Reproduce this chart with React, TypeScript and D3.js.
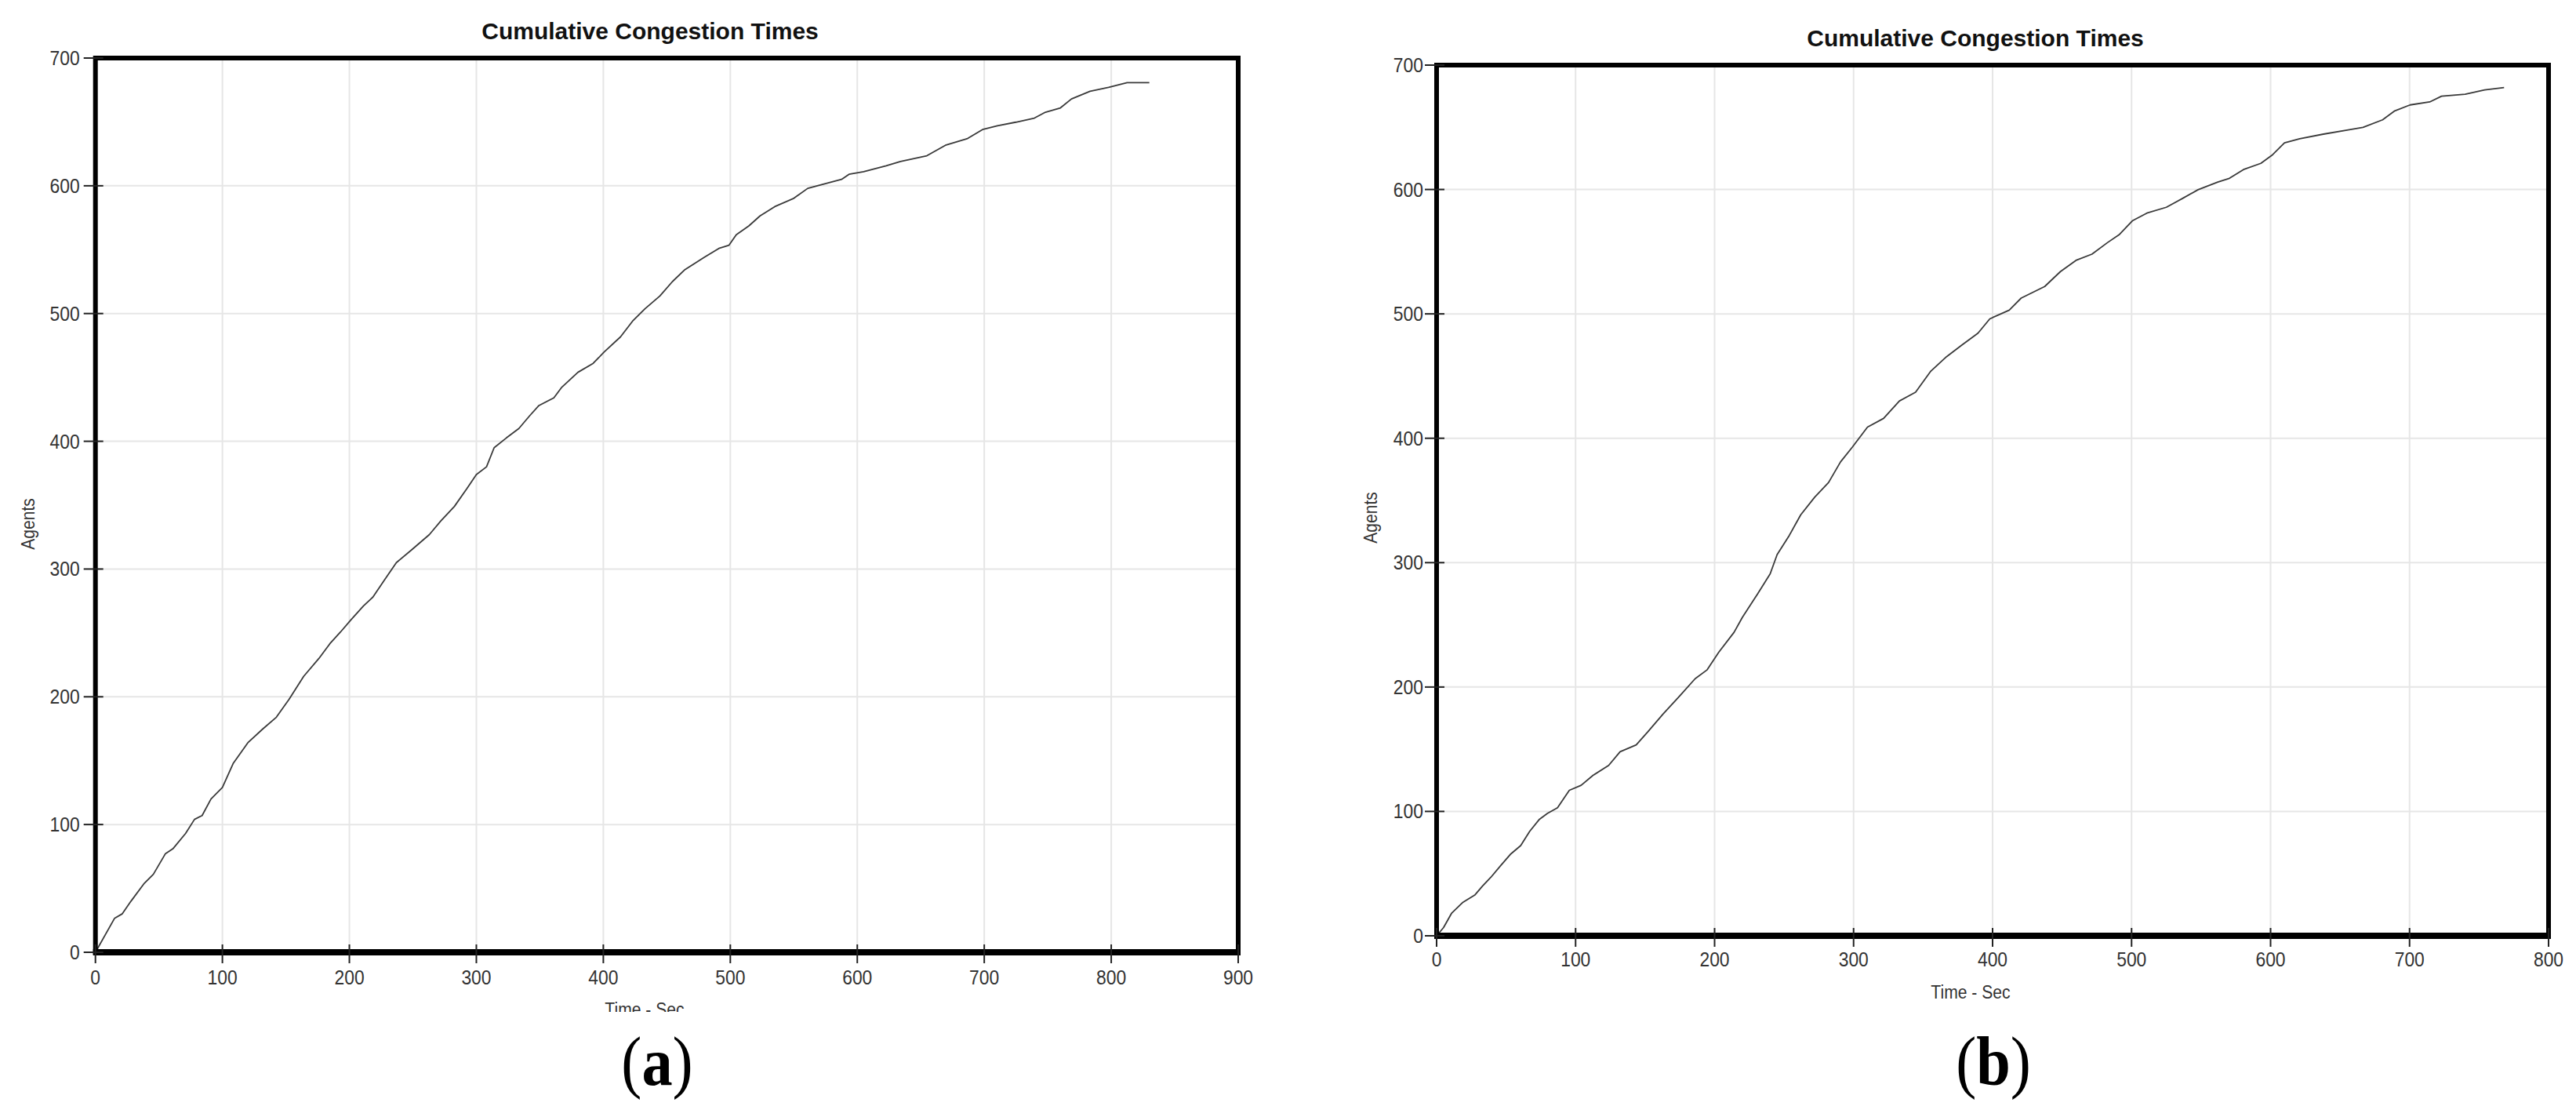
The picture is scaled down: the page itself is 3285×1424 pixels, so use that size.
import React from 'react';
import * as d3 from 'd3';

// Panel (a) data: time (s) vs cumulative agents
const timeA = [0, 15, 21, 28, 38.5, 45.6, 55, 61, 71, 78, 84, 91, 100, 108.6, 120, 132, 142.5, 152.5, 164, 176, 184.6, 193, 201, 211, 218.5, 228, 237, 249, 263, 272, 282.7, 292.6, 300, 308, 314, 323.6, 333.5, 342, 349.3, 361, 367, 380, 392, 400.7, 413.5, 423, 432.8, 444.5, 454.4, 463.8, 479.5, 491, 499, 504.7, 514.6, 523.4, 535, 549.6, 561, 576, 587.6, 593.5, 605, 622.7, 634, 654.8, 669.4, 686.9, 698.6, 710.3, 724.9, 739.5, 748.2, 760, 768.7, 783.3, 797.9, 812.5, 830];
const agentsA = [0, 26.5, 30, 40, 54, 61, 77, 81, 93, 104, 107, 120, 129, 148, 164, 175, 184, 198, 216, 230, 241.5, 250.7, 260, 271, 278, 292, 305, 315, 327, 337.6, 349, 363, 374, 380, 395, 402.6, 410, 420, 428, 434, 442, 454, 461, 470, 481.7, 494, 503.7, 513.7, 525, 534, 544, 551, 553.5, 561.7, 568.6, 576.4, 583.7, 590, 598, 602, 605, 609, 611, 615.7, 619, 623.5, 631.7, 637, 644, 647, 649.8, 653, 657.6, 661, 668, 674, 677, 680.7, 680.7];

// Panel (b) data
const timeB = [0, 5, 10.7, 19, 27.7, 33, 39, 45.8, 53, 60.5, 67, 74, 79.7, 87, 95.5, 104, 112.5, 123.8, 132, 143.6, 152, 163, 174.7, 186, 194.5, 203, 214, 220, 231, 240, 245, 253.8, 262, 272, 282, 290.6, 299, 310, 321.6, 333, 344.6, 355.6, 366.9, 378, 389.5, 398, 412, 420.6, 437.5, 448.8, 460, 471.5, 482.8, 491, 500.8, 511, 525, 536.5, 547.8, 562, 570.4, 580.5, 593, 601.5, 610, 621, 638, 655, 666.5, 680.6, 689, 700.4, 714.5, 723, 740, 754, 768];
const agentsB = [0, 6.6, 18, 27, 33, 40, 47, 56, 65.4, 72.5, 84, 93.7, 98.4, 103, 117, 121, 129, 137, 148, 153.5, 164, 178.4, 192.6, 206.7, 213.7, 228, 244, 256, 275, 291, 306.5, 322, 338.5, 352.6, 364.4, 381, 392.7, 409, 416, 430, 437, 454, 465.6, 475, 484.5, 496, 503, 512.7, 522, 534, 543, 548, 557.4, 563.6, 575, 581, 585.7, 592.7, 599.8, 606, 609, 616, 621, 628, 637.5, 640.8, 644.5, 647.8, 650, 656, 663, 668, 670.4, 675, 676.6, 680, 682];

const xTicksA = [0, 100, 200, 300, 400, 500, 600, 700, 800, 900];
const xTicksB = [0, 100, 200, 300, 400, 500, 600, 700, 800];
const yTicks = [0, 100, 200, 300, 400, 500, 600, 700];

const titleText = 'Cumulative Congestion Times';
const xLabelText = 'Time - Sec';
const yLabelText = 'Agents';

type PanelProps = {
  id: string;
  box: { left: number; right: number; top: number; bottom: number };
  xMax: number;
  xTicks: number[];
  times: number[];
  values: number[];
  title: { x: number; y: number };
  xLabel: { x: number; y: number };
  yLabel: { x: number; y: number };
  yTickLabelGap: number;
  xTickLabelY: number;
  clipBottom?: number;
  tag: string;
  tagX: number;
};

const SANS = '"Liberation Sans", Arial, sans-serif';
const SERIF = '"Liberation Serif", "Times New Roman", serif';
const TEXT_COLOR = '#333';

function Panel(p: PanelProps) {
  const x = d3.scaleLinear().domain([0, p.xMax]).range([p.box.left, p.box.right]);
  const y = d3.scaleLinear().domain([0, 700]).range([p.box.bottom, p.box.top]);
  const pts: [number, number][] = p.times.map((t, i) => [t, p.values[i]]);
  const line = d3
    .line<[number, number]>()
    .x((d) => x(d[0]))
    .y((d) => y(d[1]))
    .curve(d3.curveLinear);
  const sx = 0.88;
  return (
    <g>
      {p.clipBottom !== undefined && (
        <defs>
          <clipPath id={`clip-${p.id}`}>
            <rect x={0} y={0} width={3285} height={p.clipBottom} />
          </clipPath>
        </defs>
      )}
      {/* gridlines */}
      {p.xTicks.map((t) => (
        <line key={`gx${t}`} x1={x(t)} x2={x(t)} y1={p.box.top} y2={p.box.bottom} stroke="#e6e6e6" strokeWidth={2} />
      ))}
      {yTicks.map((t) => (
        <line key={`gy${t}`} x1={p.box.left} x2={p.box.right} y1={y(t)} y2={y(t)} stroke="#e6e6e6" strokeWidth={2} />
      ))}
      {/* curve */}
      <path d={line(pts) || ''} fill="none" stroke="#3a3a3a" strokeWidth={1.8} strokeLinejoin="round" />
      {/* frame */}
      <rect
        x={p.box.left}
        y={p.box.top}
        width={p.box.right - p.box.left}
        height={p.box.bottom - p.box.top}
        fill="none"
        stroke="#000"
        strokeWidth={6}
      />
      <line x1={p.box.left - 3} x2={p.box.right + 3} y1={p.box.bottom} y2={p.box.bottom} stroke="#000" strokeWidth={8} />
      {/* y ticks */}
      {yTicks.map((t) => (
        <g key={`yt${t}`}>
          <line x1={p.box.left - 15} x2={p.box.left + 10} y1={y(t)} y2={y(t)} stroke="#222" strokeWidth={2} />
          <text
            transform={`translate(${p.box.left - p.yTickLabelGap},${y(t)}) scale(${sx},1)`}
            textAnchor="end"
            dominantBaseline="central"
            fontFamily={SANS}
            fontSize={26}
            fill={TEXT_COLOR}
          >
            {t}
          </text>
        </g>
      ))}
      {/* x ticks */}
      {p.xTicks.map((t) => (
        <g key={`xt${t}`}>
          <line x1={x(t)} x2={x(t)} y1={p.box.bottom - 10} y2={p.box.bottom + 14} stroke="#222" strokeWidth={2} />
          <text
            transform={`translate(${x(t)},${p.xTickLabelY}) scale(${sx},1)`}
            textAnchor="middle"
            dominantBaseline="central"
            fontFamily={SANS}
            fontSize={26}
            fill={TEXT_COLOR}
          >
            {t}
          </text>
        </g>
      ))}
      {/* title */}
      <text x={p.title.x} y={p.title.y} textAnchor="middle" fontFamily={SANS} fontWeight="bold" fontSize={30} fill="#111">
        {titleText}
      </text>
      {/* axis titles */}
      <g clipPath={p.clipBottom !== undefined ? `url(#clip-${p.id})` : undefined}>
        <text
          transform={`translate(${p.xLabel.x},${p.xLabel.y}) scale(${sx},1)`}
          textAnchor="middle"
          fontFamily={SANS}
          fontSize={24}
          fill={TEXT_COLOR}
        >
          {xLabelText}
        </text>
      </g>
      <text
        transform={`translate(${p.yLabel.x},${p.yLabel.y}) rotate(-90) scale(${sx},1)`}
        textAnchor="middle"
        dominantBaseline="central"
        fontFamily={SANS}
        fontSize={24}
        fill={TEXT_COLOR}
      >
        {yLabelText}
      </text>
      {/* panel tag */}
      <text
        transform={`translate(${p.tagX},1383) scale(0.89,1)`}
        textAnchor="middle"
        fontFamily={SERIF}
        fontSize={88}
        fill="#000"
      >
        (<tspan fontWeight="bold">{p.tag}</tspan>)
      </text>
    </g>
  );
}

export default function App() {
  return (
    <svg
      width={3285}
      height={1424}
      viewBox="0 0 3285 1424"
      style={{ position: 'absolute', left: 0, top: 0, background: '#fff' }}
    >
      <rect x={0} y={0} width={3285} height={1424} fill="#fff" />
      <Panel
        id="a"
        box={{ left: 121.7, right: 1579, top: 74, bottom: 1214 }}
        xMax={900}
        xTicks={xTicksA}
        times={timeA}
        values={agentsA}
        title={{ x: 829, y: 50 }}
        xLabel={{ x: 822, y: 1295 }}
        yLabel={{ x: 36, y: 668 }}
        yTickLabelGap={20}
        xTickLabelY={1246}
        clipBottom={1290}
        tag="a"
        tagX={838}
      />
      <Panel
        id="b"
        box={{ left: 1832, right: 3250, top: 83, bottom: 1193 }}
        xMax={800}
        xTicks={xTicksB}
        times={timeB}
        values={agentsB}
        title={{ x: 2519, y: 59 }}
        xLabel={{ x: 2513, y: 1273 }}
        yLabel={{ x: 1748, y: 660 }}
        yTickLabelGap={17}
        xTickLabelY={1223}
        tag="b"
        tagX={2542}
      />
    </svg>
  );
}
